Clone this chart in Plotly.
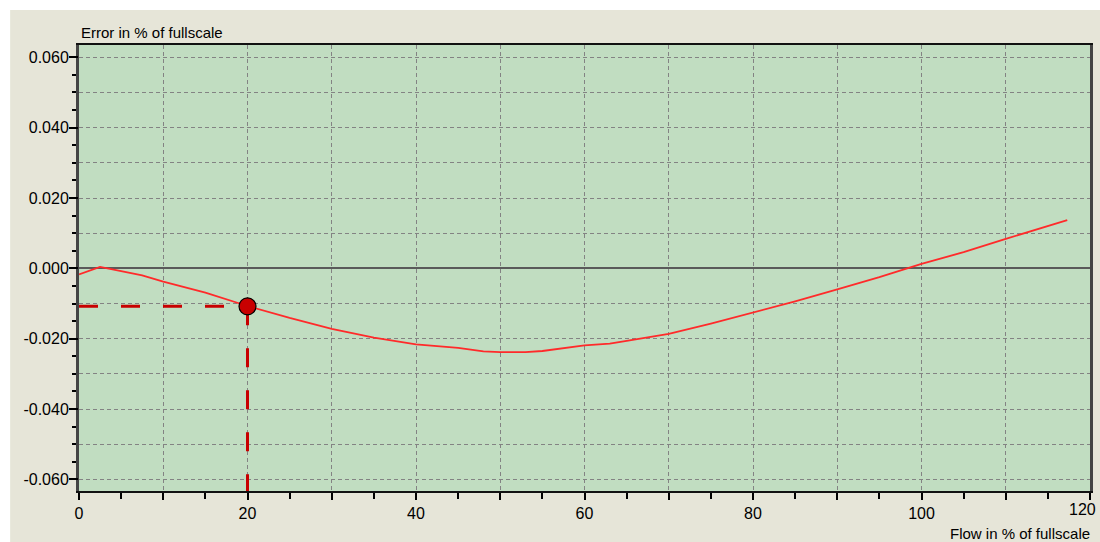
import plotly.graph_objects as go

# ---- data ----
flow_pct = [0, 2.5, 5, 7.5, 10, 15, 20, 25, 30, 35, 40, 45, 48, 50, 53, 55, 60, 63, 65,
            70, 75, 80, 85, 90, 95, 100, 105, 110, 115, 117.3]
error_pct = [-0.0017, 0.0004, -0.0008, -0.0020, -0.0038, -0.0069, -0.0107, -0.0141, -0.0172,
             -0.0197, -0.0216, -0.0226, -0.0236, -0.0238, -0.0238, -0.0235, -0.0219, -0.0214,
             -0.0206, -0.0186, -0.0157, -0.0126, -0.0094, -0.0060, -0.0025, 0.0013, 0.0046,
             0.0084, 0.0119, 0.0137]

op_flow = 20
op_error = -0.0108

x_tick_vals = [0, 10, 20, 30, 40, 50, 60, 70, 80, 90, 100, 110, 120]
x_tick_text = ["0", "", "20", "", "40", "", "60", "", "80", "", "100", "", ""]
x_edge_label = "120"
y_tick_vals = [0.06, 0.05, 0.04, 0.03, 0.02, 0.01, 0.0, -0.01, -0.02, -0.03, -0.04, -0.05, -0.06]
y_tick_text = ["0.060", "", "0.040", "", "0.020", "", "0.000", "", "-0.020", "", "-0.040", "", "-0.060"]
y_label_vals = [0.06, 0.04, 0.02, 0.0, -0.02, -0.04, -0.06]

X_RANGE = [0, 120]
Y_RANGE = [-0.0633, 0.0635]

BEIGE = "#e6e5d8"
GREEN = "#c1ddc1"
FONT = "Liberation Sans, Arial, sans-serif"

fig = go.Figure()

# operating point guide lines
fig.add_trace(go.Scatter(x=[X_RANGE[0], op_flow], y=[op_error, op_error], mode="lines",
                         line=dict(color="#c80000", width=3, dash="19px,23px"),
                         showlegend=False, hoverinfo="skip"))
fig.add_trace(go.Scatter(x=[op_flow, op_flow], y=[op_error, Y_RANGE[0]], mode="lines",
                         line=dict(color="#c80000", width=3, dash="19px,23px"),
                         showlegend=False, hoverinfo="skip"))

# error curve
fig.add_trace(go.Scatter(x=flow_pct, y=error_pct, mode="lines",
                         line=dict(color="#ff2a2a", width=1.8),
                         showlegend=False))

# operating point marker
fig.add_trace(go.Scatter(x=[op_flow], y=[op_error], mode="markers",
                         marker=dict(size=17, color="#c80000", line=dict(color="#000000", width=1.2)),
                         showlegend=False))

# invisible trace for long tick overlay axis
fig.add_trace(go.Scatter(x=[None], y=[None], yaxis="y2", showlegend=False, hoverinfo="skip"))

fig.update_layout(
    width=1100, height=542,
    margin=dict(l=79, r=7, t=45, b=51),
    paper_bgcolor=BEIGE,
    plot_bgcolor=GREEN,
    font=dict(family=FONT, size=15, color="#000000"),
    xaxis=dict(
        range=X_RANGE, tickmode="array", tickvals=x_tick_vals, ticktext=x_tick_text,
        ticks="outside", ticklen=7, tickwidth=1.5, tickcolor="#000000",
        showgrid=True, gridcolor="#838383", griddash="4px,3px", gridwidth=1,
        zeroline=False,
        showline=True, linecolor="#111111", linewidth=2, mirror=True,
        minor=dict(dtick=5, ticks="outside", ticklen=6, tickcolor="#000000", tickwidth=1.5, showgrid=False),
        tickfont=dict(size=16),
    ),
    yaxis=dict(
        range=Y_RANGE, tickmode="array", tickvals=y_tick_vals, ticktext=y_tick_text,
        ticks="outside", ticklen=4, tickwidth=1.5, tickcolor="#000000",
        showgrid=True, gridcolor="#838383", griddash="4px,3px", gridwidth=1,
        zeroline=True, zerolinecolor="#5a5a5a", zerolinewidth=2,
        showline=True, linecolor="#444444", linewidth=3, mirror=True,
        minor=dict(dtick=0.005, tick0=0, ticks="outside", ticklen=4, tickcolor="#000000", tickwidth=1.5, showgrid=False),
        tickfont=dict(size=16),
    ),
    yaxis2=dict(
        range=Y_RANGE, overlaying="y", side="left", anchor="x",
        tickmode="array", tickvals=y_label_vals, showticklabels=False,
        ticks="outside", ticklen=9, tickwidth=1.5, tickcolor="#000000",
        showgrid=False, zeroline=False, showline=False,
    ),
    shapes=[
        dict(type="rect", xref="paper", yref="paper", x0=-0.1, x1=1.1, y0=1.0785, y1=1.2,
             fillcolor="#ffffff", line=dict(width=0), layer="below"),
        dict(type="rect", xref="paper", yref="paper", x0=-0.1, x1=-0.0681, y0=-0.2, y1=1.2,
             fillcolor="#ffffff", line=dict(width=0), layer="below"),
    ],
    annotations=[
        dict(text="Error in % of fullscale", xref="paper", yref="paper", x=0, y=1.0,
             xanchor="left", yanchor="bottom", yshift=2, showarrow=False,
             font=dict(size=15, family=FONT, color="#000000")),
        dict(text="Flow in % of fullscale", xref="paper", yref="paper", x=1.0, y=0,
             xanchor="right", yanchor="top", yshift=-32, xshift=2, showarrow=False,
             font=dict(size=15, family=FONT, color="#000000")),
        dict(text=x_edge_label, xref="x", yref="paper", x=X_RANGE[1], y=0,
             xanchor="center", yanchor="top", yshift=-8, xshift=-8, showarrow=False,
             font=dict(size=16, family=FONT, color="#000000")),
    ],
)

fig.write_html("out.html", config={"displayModeBar": False},
               post_script="document.body.style.margin='0px';document.body.style.padding='0px';")
